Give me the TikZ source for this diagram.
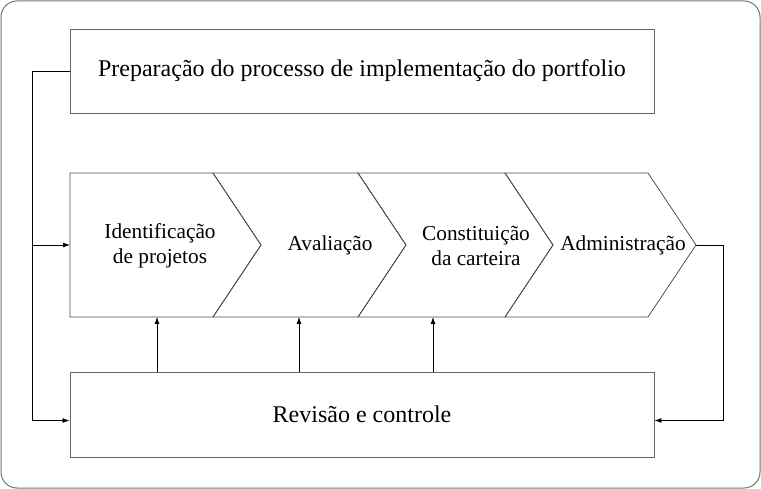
\documentclass[tikz,border=0pt]{standalone}
\usepackage{fontspec}
\setmainfont{Liberation Serif}
\usetikzlibrary{arrows.meta}
\tikzset{
  procbox/.style={draw=black!60, line width=0.9pt, minimum width=584pt, minimum height=84pt, inner sep=0pt, font=\fontsize{24}{28}\selectfont},
  chevline/.style={draw=black!70, line width=0.8pt},
  link/.style={line width=0.8pt, -{Latex[length=7pt,width=5pt]}}
}

\begin{document}
\begin{tikzpicture}[x=1pt, y=-1pt, every node/.style={font=\fontsize{21.3}{25}\selectfont}]
  \useasboundingbox (0,0) rectangle (761,489);
  \draw[black!55, line width=1pt, rounded corners=16pt] (1,1) rectangle (760,488);
  % top and bottom boxes
  \node[procbox] (prep) at (362,71) {Preparação do processo de implementação do portfolio};
  \node[procbox, minimum height=85pt] (rev) at (362,414.5) {Revisão e controle};
  % chevrons
  \draw[chevline] (70,173) -- (213,173) -- (261,245) -- (213,317) -- (70,317) -- cycle;
  \foreach \a/\b in {213/358, 358/505, 505/648}
    \draw[chevline] (\a,173) -- (\b,173) -- (\b+48,245) -- (\b,317) -- (\a,317) -- (\a+48,245) -- cycle;
  \coordinate (c1w) at (70,245);
  \coordinate (c4e) at (696,245);
  \node[align=center] (ident) at (160,246) {Identificação\\de projetos};
  \node (aval) at (330,245) {Avaliação};
  \node[align=center] (const) at (476,246) {Constituição\\da carteira};
  \node (admin) at (623,245) {Administração};
  % feedback lines
  \draw[link] (prep.west) -- ++(-37,0) |- ([yshift=-6pt]rev.west);
  \draw[link] (c1w) ++(-37,0) -- (c1w);
  \draw[link] (c4e) -- ++(27,0) |- ([yshift=-6pt]rev.east);
  \foreach \x in {157,299,433}
    \draw[link] (rev.north -| \x,0) -- (\x,317);
\end{tikzpicture}
\end{document}
